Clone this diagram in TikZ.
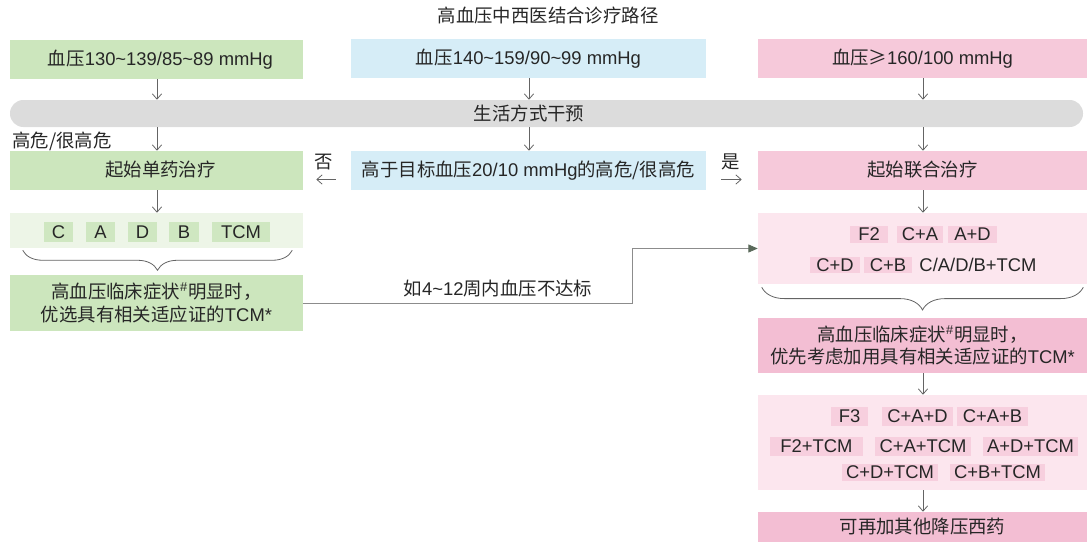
\documentclass[tikz,border=0pt]{standalone}
\usepackage{fontspec}
\setmainfont{Liberation Sans}
\newfontfamily\cjk{Noto Sans CJK SC}
\usetikzlibrary{arrows.meta,fit,calc,decorations.pathreplacing}
\definecolor{txt}{RGB}{38,38,38}
\definecolor{gbox}{RGB}{204,230,189}
\definecolor{glight}{RGB}{237,245,231}
\definecolor{gtag}{RGB}{207,231,193}
\definecolor{bbox}{RGB}{214,237,247}
\definecolor{pbox}{RGB}{246,201,218}
\definecolor{plight}{RGB}{252,230,238}
\definecolor{ptag}{RGB}{247,207,222}
\definecolor{pmid}{RGB}{243,190,211}
\definecolor{barc}{RGB}{220,220,220}
\definecolor{arrc}{RGB}{100,100,100}
\definecolor{connc}{RGB}{140,140,140}
\definecolor{tipc}{RGB}{90,105,90}
\newcommand\zh[1]{{\cjk #1}}
\begin{document}
\begin{tikzpicture}[x=0.75pt,y=-0.75pt,
  every node/.style={text=txt,font=\fontsize{13.8}{17}\selectfont},
  box/.style={inner sep=0pt,draw=none},
  one/.style={text height=9.7pt,text depth=0pt,inner sep=0pt},
  two/.style={align=center,inner sep=0pt},
  arr/.style={draw=arrc,line width=0.6pt,-{Straight Barb[length=4pt,width=7pt]}},
  conn/.style={draw=connc,line width=0.6pt,-{Triangle[length=7pt,width=6pt,fill=tipc,color=tipc]}},
  bracestyle/.style={draw=arrc,line width=0.6pt,decorate,decoration={brace,mirror,amplitude=#1}}]
\useasboundingbox (0,0) rectangle (1087,542);
\coordinate (cL) at (157,0);
\coordinate (cM) at (529,0);
\coordinate (cR) at (923,0);
\coordinate (turn) at (632,0);

% title
\node[one] (title) at (548,16) {\zh{高血压中西医结合诊疗路径}};

% row 1
\node[box,fill=gbox,fit={(10,40)(303,79)}] (t1) {};
\node[one] (t1x) at ($(t1.center)+(4,0)$) {\zh{血压}130\textasciitilde 139/85\textasciitilde 89 mmHg};
\node[box,fill=bbox,fit={(351,39)(706,78)}] (t2) {};
\node[one] (t2x) at (t2.center) {\zh{血压}140\textasciitilde 159/90\textasciitilde 99 mmHg};
\node[box,fill=pbox,fit={(758,39)(1087,78)}] (t3) {};
\node[one] (t3x) at (t3.center) {\zh{血压≥}160/100 mmHg};

% lifestyle bar
\node[box,fill=barc,rounded corners=10pt,fit={(10,100)(1083,127)}] (bar) {};
\node[one] (bartxt) at (529,114) {\zh{生活方式干预}};

\draw[arr] (t1.south -| cL) -- (bar.north -| cL);
\draw[arr] (t2.south -| cM) -- (bar.north -| cM);
\draw[arr] (t3.south -| cR) -- (bar.north -| cR);

% row 2
\node[box,fill=gbox,fit={(10,151)(303,190)}] (r2l) {};
\node[one] (r2lx) at ($(r2l.center)+(4,0)$) {\zh{起始单药治疗}};
\node[box,fill=bbox,fit={(351,151)(706,190)}] (r2m) {};
\node[one] (r2mx) at (r2m.center) {\zh{高于目标血压}20/10 mmHg\zh{的高危/很高危}};
\node[box,fill=pbox,fit={(758,151)(1087,190)}] (r2r) {};
\node[one] (r2rx) at (r2r.center) {\zh{起始联合治疗}};
\node[one,anchor=west] (hr) at (12,141) {\zh{高危/很高危}};

\draw[arr] (bar.south -| cL) -- (r2l.north -| cL);
\draw[arr] (bar.south -| cM) -- (r2m.north -| cM);
\draw[arr] (bar.south -| cR) -- (r2r.north -| cR);

\draw[arr] ($(r2m.west)+(-15,9)$) -- ($(r2l.east)+(13,9)$);
\node[one] (no) at (324,162) {\zh{否}};
\draw[arr] ($(r2m.east)+(15,9)$) -- ($(r2r.west)+(-16,9)$);
\node[one] (yes) at (731,162) {\zh{是}};

% left column
\node[box,fill=glight,fit={(10,213)(303,248)}] (lp) {};
\draw[arr] (r2l.south -| cL) -- (lp.north -| cL);
\node[box,fill=gtag,fit={(44,222)(73,242)}] (gC) {};
\node[one] (gCx) at (gC.center) {C};
\node[box,fill=gtag,fit={(86,222)(115,242)}] (gA) {};
\node[one] (gAx) at (gA.center) {A};
\node[box,fill=gtag,fit={(128,222)(157,242)}] (gD) {};
\node[one] (gDx) at (gD.center) {D};
\node[box,fill=gtag,fit={(169,222)(199,242)}] (gB) {};
\node[one] (gBx) at (gB.center) {B};
\node[box,fill=gtag,fit={(212,222)(270,242)}] (gT) {};
\node[one] (gTx) at (gT.center) {TCM};
\draw[bracestyle=15pt] ($(lp.south west)+(13,2)$) -- ($(lp.south east)+(-11,2)$);
\node[box,fill=gbox,fit={(10,275)(303,331)}] (lb) {};
\node[two] (lbx) at (lb.center)
  {\zh{高血压临床症状}\textsuperscript{\#}\zh{明显时，}\\\zh{优选具有相关适应证的}TCM*};

\node[one] (cond) at (498,289) {\zh{如}4\textasciitilde 12\zh{周内血压不达标}};

% right column
\node[box,fill=plight,fit={(758,213)(1087,284)}] (rp1) {};
\draw[arr] (r2r.south -| cR) -- (rp1.north -| cR);
\node[box,fill=ptag,fit={(850,226)(888,243)}] (pF2) {};
\node[one] (pF2x) at (pF2.center) {F2};
\node[box,fill=ptag,fit={(897,226)(943,243)}] (pCA) {};
\node[one] (pCAx) at (pCA.center) {C+A};
\node[box,fill=ptag,fit={(948,226)(997,243)}] (pAD) {};
\node[one] (pADx) at (pAD.center) {A+D};
\node[box,fill=ptag,fit={(810,257)(860,273)}] (pCD) {};
\node[one] (pCDx) at (pCD.center) {C+D};
\node[box,fill=ptag,fit={(864,257)(912,273)}] (pCB) {};
\node[one] (pCBx) at (pCB.center) {C+B};
\node[one] (pAll) at (978,265) {C/A/D/B+TCM};

\draw[conn] (lb.east) -| (turn |- rp1.west) -- (rp1.west);

\draw[bracestyle=17pt] ($(rp1.south west)+(4,3)$) -- ($(rp1.south east)+(-4,3)$);
\node[box,fill=pmid,fit={(758,318)(1087,373)}] (rtxt) {};
\node[two] (rtxtx) at (rtxt.center)
  {\zh{高血压临床症状}\textsuperscript{\#}\zh{明显时，}\\\zh{优先考虑加用具有相关适应证的}TCM*};

\node[box,fill=plight,fit={(758,395)(1087,490)}] (rp2) {};
\draw[arr] (rtxt.south -| cR) -- (rp2.north -| cR);
\node[box,fill=ptag,fit={(831,407)(868,426)}] (qF3) {};
\node[one] (qF3x) at (qF3.center) {F3};
\node[box,fill=ptag,fit={(882,407)(953,426)}] (qCAD) {};
\node[one] (qCADx) at (qCAD.center) {C+A+D};
\node[box,fill=ptag,fit={(957,407)(1028,426)}] (qCAB) {};
\node[one] (qCABx) at (qCAB.center) {C+A+B};
\node[box,fill=ptag,fit={(770,437)(863,456)}] (qF2T) {};
\node[one] (qF2Tx) at (qF2T.center) {F2+TCM};
\node[box,fill=ptag,fit={(875,437)(971,456)}] (qCAT) {};
\node[one] (qCATx) at (qCAT.center) {C+A+TCM};
\node[box,fill=ptag,fit={(983,437)(1078,456)}] (qADT) {};
\node[one] (qADTx) at (qADT.center) {A+D+TCM};
\node[box,fill=ptag,fit={(842,464)(938,481)}] (qCDT) {};
\node[one] (qCDTx) at (qCDT.center) {C+D+TCM};
\node[box,fill=ptag,fit={(950,464)(1045,481)}] (qCBT) {};
\node[one] (qCBTx) at (qCBT.center) {C+B+TCM};

\node[box,fill=pmid,fit={(758,512)(1087,542)}] (fin) {};
\node[one] (finx) at (fin.center) {\zh{可再加其他降压西药}};
\draw[arr] (rp2.south -| cR) -- (fin.north -| cR);
\end{tikzpicture}
\end{document}
